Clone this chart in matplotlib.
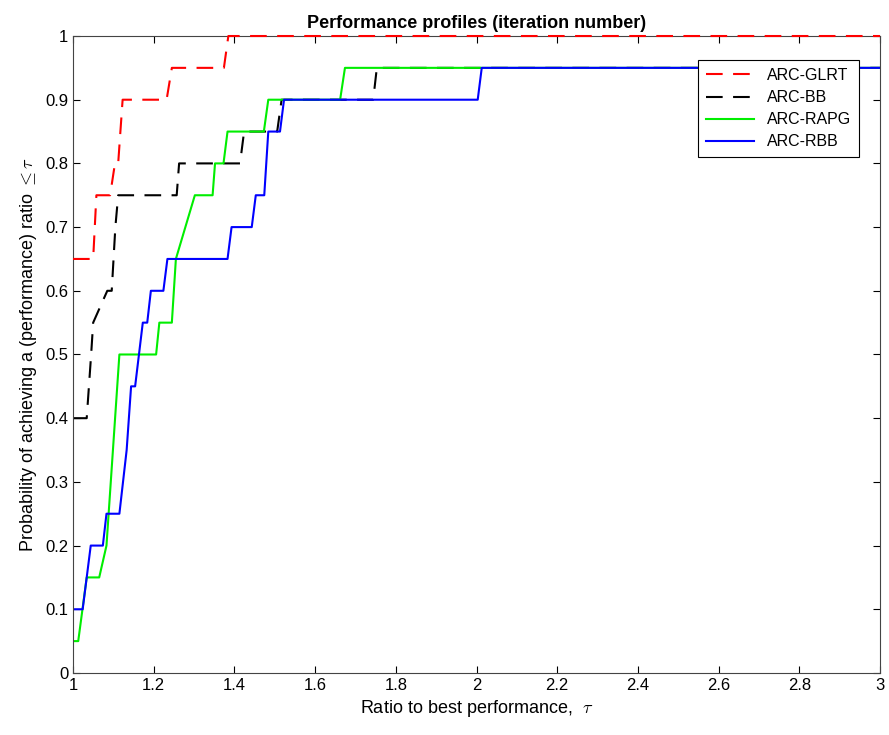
import matplotlib
matplotlib.use("Agg")
import matplotlib.pyplot as plt
import numpy as np

plt.rcParams['font.family'] = ['Liberation Sans', 'DejaVu Sans']
plt.rcParams['mathtext.fontset'] = 'cm'

# vertices of each performance profile (tau, probability)
glrt_t = [1.0, 1.05, 1.058, 1.092, 1.104, 1.112, 1.123, 1.232, 1.245, 1.374, 1.385, 3.0]
glrt_p = [0.65, 0.65, 0.75, 0.75, 0.8, 0.8, 0.9, 0.9, 0.95, 0.95, 1.0, 1.0]

bb_t = [1.0, 1.034, 1.045, 1.05, 1.085, 1.096, 1.105, 1.112, 1.257, 1.263, 1.414, 1.424, 1.506, 1.517, 1.744, 1.753, 3.0]
bb_p = [0.4, 0.4, 0.5, 0.55, 0.6, 0.6, 0.7, 0.75, 0.75, 0.8, 0.8, 0.85, 0.85, 0.9, 0.9, 0.95, 0.95]

rapg_t = [1.0, 1.013, 1.034, 1.065, 1.083, 1.115, 1.206, 1.214, 1.245, 1.255, 1.302, 1.346, 1.352, 1.373, 1.383,
          1.473, 1.484, 1.662, 1.674, 3.0]
rapg_p = [0.05, 0.05, 0.15, 0.15, 0.2, 0.5, 0.5, 0.55, 0.55, 0.65, 0.75, 0.75, 0.8, 0.8, 0.85,
          0.85, 0.9, 0.9, 0.95, 0.95]

rbb_t = [1.0, 1.024, 1.044, 1.074, 1.083, 1.115, 1.133, 1.144, 1.154, 1.173, 1.184, 1.193, 1.224, 1.234,
         1.383, 1.393, 1.443, 1.453, 1.474, 1.484, 1.513, 1.523, 2.003, 2.013, 3.0]
rbb_p = [0.1, 0.1, 0.2, 0.2, 0.25, 0.25, 0.35, 0.45, 0.45, 0.55, 0.55, 0.6, 0.6, 0.65,
         0.65, 0.7, 0.7, 0.75, 0.75, 0.85, 0.85, 0.9, 0.9, 0.95, 0.95]

fig = plt.figure(figsize=(8.89, 7.35), dpi=100)
ax = fig.add_axes([0.0821, 0.0844, 0.9078, 0.8666])

ax.plot(glrt_t, glrt_p, color='red', ls=(0, (8, 5)), lw=1.5, label='ARC-GLRT', clip_on=False, zorder=5)
ax.plot(bb_t, bb_p, color='black', ls=(0, (8, 5)), lw=1.5, label='ARC-BB')
ax.plot(rapg_t, rapg_p, color='#00ee00', lw=1.5, label='ARC-RAPG')
ax.plot(rbb_t, rbb_p, color='blue', lw=1.5, label='ARC-RBB')

ax.set_xlim(1, 3)
ax.set_ylim(0, 1)
ax.set_xticks(np.arange(1, 3.01, 0.2))
ax.set_xticklabels(['1', '1.2', '1.4', '1.6', '1.8', '2', '2.2', '2.4', '2.6', '2.8', '3'])
ax.set_yticks(np.arange(0, 1.01, 0.1))
ax.set_yticklabels(['0', '0.1', '0.2', '0.3', '0.4', '0.5', '0.6', '0.7', '0.8', '0.9', '1'])
ax.tick_params(direction='in', top=True, right=True, labelsize=12, length=5)
for s in ax.spines.values():
    s.set_color('#444444')

ax.set_title('Performance profiles (iteration number)', fontsize=13, fontweight='bold', pad=6)
ax.set_xlabel(r'Ratio to best performance,  $\tau$', fontsize=13)
ax.set_ylabel(r'Probability of achieving a (performance) ratio $\leq\tau$', fontsize=13)

leg = ax.legend(loc='upper right', bbox_to_anchor=(0.9835, 0.975), fontsize=11.5, fancybox=False,
                edgecolor='black', framealpha=1, handlelength=3.0, borderpad=0.5, labelspacing=0.45)
leg.get_frame().set_linewidth(0.8)
leg.set_zorder(6)

fig.savefig('out.png', dpi=100)
